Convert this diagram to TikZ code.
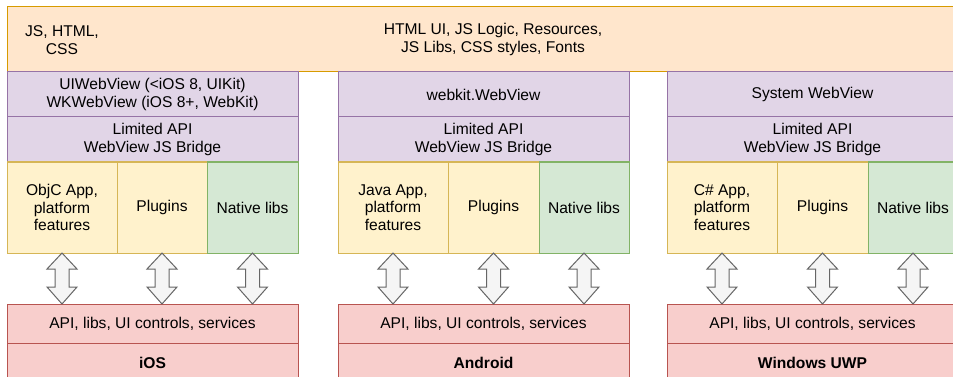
\documentclass[tikz,border=0pt]{standalone}
\usepackage{fontspec}
\setmainfont{Liberation Sans}
\definecolor{orangeF}{HTML}{FFE6CC}\definecolor{orangeD}{HTML}{D79B00}
\definecolor{purpleF}{HTML}{E1D5E7}\definecolor{purpleD}{HTML}{9673A6}
\definecolor{yellowF}{HTML}{FFF2CC}\definecolor{yellowD}{HTML}{D6B656}
\definecolor{greenF}{HTML}{D5E8D4}\definecolor{greenD}{HTML}{82B366}
\definecolor{redF}{HTML}{F8CECC}\definecolor{redD}{HTML}{B85450}
\definecolor{grayF}{HTML}{F5F5F5}\definecolor{grayD}{HTML}{666666}
\begin{document}
\begin{tikzpicture}[x=1pt,y=-1pt,
  box/.style={draw, rectangle, anchor=north west, inner sep=0pt, outer sep=0pt,
    align=center, font=\fontsize{15.6}{17.7}\selectfont, line width=1pt},
  sz/.style 2 args={minimum width=#1pt, minimum height=#2pt},
  orgbox/.style={box, fill=orangeF, draw=orangeD},
  purbox/.style={box, fill=purpleF, draw=purpleD, sz={291}{45}},
  yelbox/.style={box, fill=yellowF, draw=yellowD},
  grnbox/.style={box, fill=greenF, draw=greenD},
  redbox/.style={box, fill=redF, draw=redD, sz={291}{39}},
  plain/.style={inner sep=0pt, align=center, font=\fontsize{15.6}{17.7}\selectfont},
  dbl/.style={draw=grayD, fill=grayF, line width=1pt, line join=miter}
]
\useasboundingbox (0,0) rectangle (953,377);
\clip (0,0) rectangle (953,377);

% top layer
\node[orgbox, sz={972}{65}] (top) at (7,7) {HTML UI, JS Logic, Resources,\\JS Libs, CSS styles, Fonts};
\node[plain] (jshtml) at (62,40) {JS, HTML,\\CSS};

% iOS column
\node[purbox] (iwv) at (7,72) {UIWebView (<iOS 8, UIKit)\\WKWebView (iOS 8+, WebKit)};
\node[purbox] (ibr) at (7,117) {Limited API\\WebView JS Bridge};
\node[yelbox, sz={110}{91}] (iapp) at (7,162) {ObjC App,\\platform\\features};
\node[yelbox, sz={90}{91}] (iplg) at (117,162) {Plugins};
\node[grnbox, sz={91}{91}] (inat) at (207,162) {Native libs};
\node[redbox] (iapi) at (7,304) {API, libs, UI controls, services};
\node[redbox] (ios) at (7,343) {\textbf{iOS}};

% Android column
\node[purbox] (awv) at (338,72) {webkit.WebView};
\node[purbox] (abr) at (338,117) {Limited API\\WebView JS Bridge};
\node[yelbox, sz={110}{91}] (aapp) at (338,162) {Java App,\\platform\\features};
\node[yelbox, sz={91}{91}] (aplg) at (448,162) {Plugins};
\node[grnbox, sz={90}{91}] (anat) at (539,162) {Native libs};
\node[redbox] (aapi) at (338,304) {API, libs, UI controls, services};
\node[redbox] (andr) at (338,343) {\textbf{Android}};

% Windows column
\node[purbox] (wwv) at (667,72) {System WebView};
\node[purbox] (wbr) at (667,117) {Limited API\\WebView JS Bridge};
\node[yelbox, sz={110}{91}] (wapp) at (667,162) {C\# App,\\platform\\features};
\node[yelbox, sz={91}{91}] (wplg) at (777,162) {Plugins};
\node[grnbox, sz={90}{91}] (wnat) at (868,162) {Native libs};
\node[redbox] (wapi) at (667,304) {API, libs, UI controls, services};
\node[redbox] (win) at (667,343) {\textbf{Windows UWP}};

% double arrows
\foreach \a/\b in {iapp/iapi, iplg/iapi, inat/iapi, aapp/aapi, aplg/aapi, anat/aapi, wapp/wapi, wplg/wapi, wnat/wapi}{
  \draw[dbl] (\a.south) -- ++(15,16) -- ++(-8,0) -- ++(0,18) -- ++(8,0)
    -- (\a.south |- \b.north) -- ++(-15,-17) -- ++(8,0) -- ++(0,-18) -- ++(-8,0) -- cycle;
}
\end{tikzpicture}
\end{document}
